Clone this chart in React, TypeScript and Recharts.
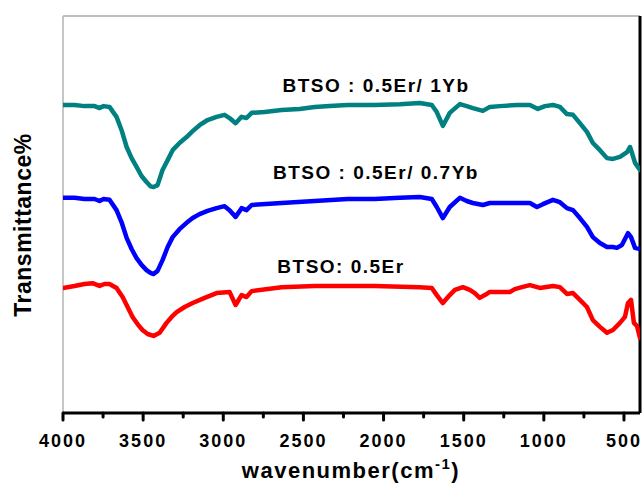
import React from 'react';
import { LineChart, Line, XAxis, YAxis, ReferenceLine, Customized } from 'recharts';

// wavenumber (cm^-1) and transmittance (arbitrary %) for each sample
const tealWn = [4000, 3928, 3866, 3803, 3772, 3747, 3710, 3666, 3635, 3603, 3572, 3541, 3510, 3479, 3454, 3435, 3410, 3379, 3347, 3316, 3273, 3229, 3191, 3148, 3098, 3042, 2992, 2961, 2923, 2886, 2855, 2823, 2742, 2636, 2524, 2430, 2336, 2224, 2055, 1899, 1774, 1699, 1668, 1630, 1587, 1524, 1481, 1443, 1380, 1337, 1274, 1168, 1087, 1037, 993, 943, 900, 856, 818, 775, 731, 694, 650, 606, 569, 525, 481, 462, 450, 431, 400];
const tealT = [77.6, 77.6, 77.3, 77.3, 76.8, 77.3, 77.1, 74.6, 71.3, 67.0, 64.2, 62.0, 59.7, 58.2, 57.1, 56.9, 57.4, 61.2, 63.7, 66.2, 68.0, 69.5, 71.0, 72.5, 73.8, 74.6, 75.1, 74.3, 73.0, 74.6, 74.3, 75.6, 75.8, 76.3, 76.6, 77.1, 77.3, 77.6, 77.6, 77.8, 78.1, 77.6, 75.8, 72.3, 75.6, 77.8, 77.3, 76.8, 76.1, 77.1, 77.3, 77.6, 77.6, 76.6, 77.3, 77.6, 77.1, 75.3, 75.1, 73.0, 70.8, 68.0, 66.2, 64.2, 64.0, 64.5, 65.7, 67.0, 65.5, 63.0, 61.2];

const blueWn = [4000, 3928, 3866, 3803, 3772, 3747, 3710, 3666, 3635, 3603, 3572, 3541, 3510, 3479, 3454, 3435, 3410, 3379, 3347, 3316, 3273, 3229, 3191, 3148, 3098, 3042, 2992, 2961, 2923, 2886, 2855, 2823, 2636, 2430, 2224, 2055, 1899, 1774, 1699, 1668, 1630, 1587, 1524, 1481, 1443, 1380, 1337, 1274, 1168, 1087, 1043, 1006, 943, 900, 856, 818, 775, 731, 694, 650, 606, 569, 544, 513, 475, 456, 431, 400];
const blueT = [54.2, 54.2, 53.9, 53.9, 53.4, 53.9, 53.7, 51.1, 48.1, 44.1, 41.3, 39.0, 37.3, 36.0, 35.3, 35.0, 35.8, 38.5, 41.8, 44.3, 46.3, 47.9, 49.1, 50.1, 50.9, 51.6, 52.1, 51.1, 49.4, 51.6, 51.1, 52.4, 52.9, 53.4, 53.9, 53.9, 54.2, 54.4, 53.9, 51.9, 49.1, 51.9, 54.2, 53.4, 52.9, 52.4, 52.9, 52.9, 52.9, 52.9, 51.9, 52.6, 53.7, 53.1, 51.6, 51.1, 49.1, 46.9, 44.3, 42.8, 41.8, 41.8, 41.6, 42.3, 45.3, 44.3, 41.6, 41.3];

const redWn = [4000, 3928, 3866, 3816, 3772, 3741, 3710, 3666, 3628, 3597, 3566, 3535, 3504, 3472, 3435, 3397, 3354, 3322, 3291, 3241, 3191, 3116, 3042, 2961, 2923, 2886, 2855, 2823, 2636, 2430, 2224, 2055, 1774, 1699, 1668, 1630, 1587, 1555, 1505, 1462, 1431, 1400, 1368, 1337, 1212, 1181, 1137, 1087, 1025, 943, 900, 856, 818, 775, 731, 694, 650, 606, 569, 525, 494, 475, 456, 438, 419, 400];
const redT = [31.5, 32.0, 32.5, 32.7, 32.0, 32.5, 32.5, 31.5, 29.2, 26.7, 24.2, 22.4, 20.9, 19.9, 19.4, 20.2, 22.7, 24.2, 25.4, 26.7, 27.7, 29.0, 30.2, 30.5, 27.2, 29.7, 29.2, 30.7, 31.7, 32.0, 32.0, 32.0, 31.7, 31.5, 29.7, 27.7, 29.7, 31.0, 31.7, 31.0, 30.2, 29.0, 29.7, 30.5, 30.5, 31.2, 31.7, 32.2, 31.5, 32.0, 31.7, 30.0, 30.2, 28.5, 26.7, 23.4, 21.7, 20.2, 20.9, 22.7, 24.2, 27.7, 28.5, 22.7, 21.9, 18.9];

const xTicks = [4000, 3750, 3500, 3250, 3000, 2750, 2500, 2250, 2000, 1750, 1500, 1250, 1000, 750, 500];
const seriesLabels = ['BTSO : 0.5Er/ 1Yb', 'BTSO : 0.5Er/ 0.7Yb', 'BTSO: 0.5Er'];
const xTitle = 'wavenumber(cm';
const yTitle = 'Transmittance%';

const zip = (wn: number[], t: number[]) => wn.map((w, i) => ({ wn: w, t: t[i] }));
const tealData = zip(tealWn, tealT);
const blueData = zip(blueWn, blueT);
const redData = zip(redWn, redT);

const FONT = '"Liberation Sans", Arial, sans-serif';

const Tick = (props: any) => {
  const { x, y, payload } = props;
  const v = payload.value;
  const major = v % 500 === 0;
  return (
    <g>
      <line x1={x} x2={x} y1={y} y2={y + (major ? 7 : 4)} stroke="#000" strokeWidth={3} strokeLinecap="round" />
      {major && (
        <text x={x} y={y + 34} textAnchor="middle" fontFamily={FONT} fontWeight="bold" fontSize={18} letterSpacing={2} fill="#000">
          {v}
        </text>
      )}
    </g>
  );
};

const Texts = () => (
  <g fontFamily={FONT} fontWeight="bold" fill="#000">
    <text x={376} y={92} textAnchor="middle" fontSize={19} letterSpacing={1.5}>{seriesLabels[0]}</text>
    <text x={376} y={179} textAnchor="middle" fontSize={19} letterSpacing={1.5}>{seriesLabels[1]}</text>
    <text x={341} y={273} textAnchor="middle" fontSize={19} letterSpacing={1.5}>{seriesLabels[2]}</text>
    <text x={351} y={478} textAnchor="middle" fontSize={22} letterSpacing={1.5}>
      <tspan>{xTitle}</tspan>
      <tspan fontSize={15} dy={-9}>-1</tspan>
      <tspan dy={9}>)</tspan>
    </text>
    <text x={31} y={225} textAnchor="middle" fontSize={23} letterSpacing={0.5} transform="rotate(-90, 31, 225)">{yTitle}</text>
  </g>
);

export default function App() {
  return (
    <div style={{ position: 'absolute', left: 0, top: 0, width: 642, height: 488, background: '#fff' }}>
      <LineChart width={642} height={488} margin={{ top: 16, right: 2, left: 63, bottom: 0 }}>
        <XAxis
          type="number"
          dataKey="wn"
          domain={[400, 4000]}
          reversed
          allowDataOverflow
          ticks={xTicks}
          interval={0}
          height={75}
          tickSize={0}
          tickMargin={0}
          tickLine={false}
          axisLine={{ stroke: '#000', strokeWidth: 3 }}
          tick={<Tick />}
        />
        <YAxis type="number" domain={[0, 100]} hide />
        <ReferenceLine y={100} stroke="#a9a9a9" strokeWidth={1.5} />
        <ReferenceLine x={4000} stroke="#b3b3b3" strokeWidth={1.5} />
        <ReferenceLine x={400} stroke="#000" strokeWidth={3} />
        <Line data={tealData} dataKey="t" stroke="#008080" strokeWidth={4.5} strokeLinejoin="round" strokeLinecap="round" dot={false} isAnimationActive={false} type="linear" />
        <Line data={blueData} dataKey="t" stroke="#0000ff" strokeWidth={4.5} strokeLinejoin="round" strokeLinecap="round" dot={false} isAnimationActive={false} type="linear" />
        <Line data={redData} dataKey="t" stroke="#ff0000" strokeWidth={4.5} strokeLinejoin="round" strokeLinecap="round" dot={false} isAnimationActive={false} type="linear" />
        <Customized component={Texts} />
      </LineChart>
    </div>
  );
}
